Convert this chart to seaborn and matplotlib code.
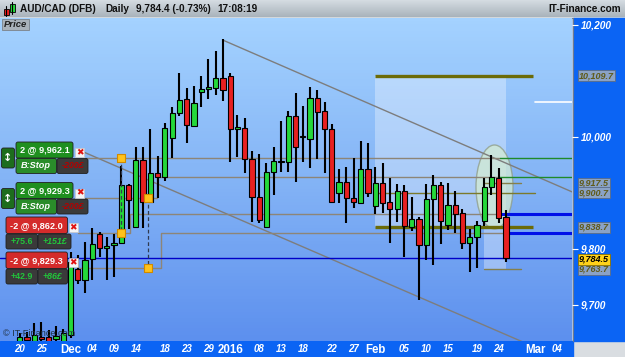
import numpy as np
import pandas as pd
import matplotlib
matplotlib.use("Agg")
import matplotlib.pyplot as plt
import matplotlib.transforms as mtransforms
from matplotlib.patches import Rectangle, Ellipse, FancyBboxPatch
from matplotlib.colors import LinearSegmentedColormap
import seaborn as sns

sns.set_theme(style="white")
plt.rcParams['font.family'] = ['Liberation Sans', 'DejaVu Sans']

# ---------------- data ----------------
day_idx = list(range(-10, 58))   # trading-day index, 0 = 4 Dec 2015
opens = [9634, 9643, 9635, 9643, 9643, 9640, 9634, 9646, 9764, 9745,
         9782, 9827, 9802, 9807, 9811, 9914, 9839, 9959, 9884, 9936,
         9929, 9998, 10043, 10068, 10020, 10080, 10086, 10088, 10105, 10109,
         10014, 10016, 9961, 9893, 9839, 9937, 9955, 9955, 10038, 10000,
         9996, 10070, 10046, 10014, 9900, 9920, 9891, 9882, 9943, 9877,
         9918, 9884, 9871, 9904, 9839, 9854, 9807, 9889, 9914, 9843,
         9879, 9864, 9811, 9821, 9850, 9911, 9927, 9857]
highs = [9650, 9652, 9668, 9670, 9655, 9662, 9657, 9794, 9789, 9812,
         9837, 9830, 9821, 9827, 9948, 9916, 9982, 9982, 10014, 9966,
         10025, 10054, 10114, 10088, 10091, 10109, 10139, 10154, 10175, 10114,
         10039, 10034, 9975, 9970, 9954, 9982, 10029, 10046, 10079, 10055,
         10089, 10084, 10063, 10023, 9943, 9946, 9963, 9993, 9989, 9946,
         9954, 9927, 9916, 9914, 9893, 9857, 9916, 9932, 9920, 9918,
         9904, 9871, 9836, 9850, 9927, 9968, 9945, 9870]
lows = [9628, 9630, 9630, 9632, 9628, 9635, 9628, 9641, 9737, 9721,
        9745, 9786, 9745, 9750, 9809, 9835, 9837, 9837, 9882, 9891,
        9921, 9963, 10038, 9989, 10018, 10054, 10068, 10075, 10064, 9955,
        9964, 9936, 9848, 9846, 9837, 9896, 9937, 9937, 9920, 9955,
        9945, 9961, 9936, 9882, 9882, 9846, 9873, 9880, 9893, 9862,
        9864, 9811, 9848, 9786, 9832, 9709, 9780, 9771, 9809, 9834,
        9829, 9800, 9759, 9766, 9841, 9896, 9846, 9777]
closes = [9643, 9637, 9646, 9640, 9635, 9645, 9650, 9776, 9745, 9780,
          9809, 9802, 9805, 9811, 9914, 9887, 9959, 9884, 9936, 9929,
          10016, 10043, 10066, 10021, 10061, 10086, 10089, 10105, 10084, 10014,
          10018, 9961, 9893, 9852, 9937, 9957, 9957, 10038, 9982, 10002,
          10070, 10045, 10014, 9884, 9920, 9891, 9884, 9943, 9900, 9918,
          9882, 9871, 9904, 9841, 9854, 9807, 9889, 9914, 9850, 9879,
          9862, 9811, 9821, 9843, 9911, 9929, 9855, 9784.5]

date_tick_idx = [-10, -7, -3, 0, 3, 6, 10, 13, 16, 19, 23, 26, 29, 33, 36, 39,
                 43, 46, 49, 53, 56, 61, 64]
date_tick_lbl = ["20", "25", "Dec", "04", "09", "14", "18", "23", "29", "2016",
                 "08", "13", "18", "22", "27", "Feb", "05", "10", "15", "19",
                 "24", "Mar", "04"]
month_lbls = ["Dec", "2016", "Feb", "Mar"]

price_ticks = [9700, 9800, 10000, 10200]
price_tick_lbl = ["9,700", "9,800", "10,000", "10,200"]

last_price = 9784.5
order_levels = [9962.1, 9929.3, 9862.0, 9829.3]
order_qty = ["2 @ 9,962.1", "2 @ 9,929.3", "-2 @ 9,862.0", "-2 @ 9,829.3"]
order_info_a = ["B:Stop", "B:Stop", "+75.6", "+42.9"]
order_info_b = ["-200£", "-200£", "+151£", "+86£"]

range1_levels = [10109.7, 9900.7, 9838.7]
range2_levels = [9917.5, 9763.7]
axis_marker_levels = [10109.7, 9917.5, 9900.7, 9838.7, 9763.7]
axis_marker_lbl = ["10,109.7", "9,917.5", "9,900.7", "9,838.7", "9,763.7"]
white_level = 10062.5

upper_trend_x, upper_trend_y = [18, 66.1], [10173, 9902]
lower_trend_x, lower_trend_y = [-1.7, 66.1], [9976, 9596]

# ---------------- layout helpers (pixel <-> data) ----------------
W, H = 625, 357
PX0, PXS = 92.3, 7.258      # x pixel of index 0, pixels per trading day
PY0, PYS = 137.0, 0.56      # y pixel of 10,000, pixels per point
def xd(px): return (px - PX0) / PXS
def yd(py): return 10000 - (py - PY0) / PYS

fig = plt.figure(figsize=(W / 100, H / 100), dpi=100)

# frame (pixel coordinates)
frame = fig.add_axes([0, 0, 1, 1], zorder=0)
frame.axis('off')
frame.add_patch(Rectangle((0, 0), W, H, color='#d9dde1', zorder=0))
tgrad = np.linspace(0, 1, 50).reshape(-1, 1)
frame.imshow(tgrad, extent=(0, W, 17, 0), aspect='auto', zorder=1,
             cmap=LinearSegmentedColormap.from_list('t', ['#d5dce2', '#a9b3bb']))
frame.plot([0, W], [17.5, 17.5], color='#7a838a', lw=0.8, zorder=2)
frame.add_patch(Rectangle((573, 18), 52, 323, color='#0b64f4', zorder=2))
frame.add_patch(Rectangle((0, 341), 573, 16, color='#0b64f4', zorder=2))
frame.plot([572.5, 572.5], [18, 341], color='#6c7a90', lw=0.8, zorder=3)
frame.set_xlim(0, W); frame.set_ylim(H, 0)

# main axes
ax = fig.add_axes([0, (H - 341) / H, 572 / W, (341 - 18) / H], zorder=2)
ax.patch.set_alpha(0)
bgrad = np.linspace(0, 1, 100).reshape(-1, 1)
ax.imshow(bgrad, extent=[0, 1, 0, 1], transform=ax.transAxes, aspect='auto', zorder=0,
          cmap=LinearSegmentedColormap.from_list('b', ['#a4d2ff', '#84b4f6', '#5d90ee']))

df = pd.DataFrame(dict(i=day_idx, o=opens, h=highs, l=lows, c=closes))
up = df.c >= df.o

# drawing tools: rectangles, ellipse
ax.add_patch(Rectangle((xd(375), range1_levels[2]), xd(506) - xd(375),
                       range1_levels[0] - range1_levels[2], color='white', alpha=0.32, lw=0, zorder=1))
ax.add_patch(Rectangle((xd(484), range2_levels[1]), xd(506) - xd(484),
                       range1_levels[2] - range2_levels[1], color='white', alpha=0.32, lw=0, zorder=1))
ax.add_patch(Ellipse((xd(494.5), yd(187)), 37 / PXS, 84 / PYS, facecolor='#d4ecd2', alpha=0.75,
                     edgecolor='#8e9c86', lw=1.0, zorder=2))

# trend channel
sns.lineplot(x=upper_trend_x, y=upper_trend_y, ax=ax, color='#7d7d7d', lw=1.0, zorder=3)
sns.lineplot(x=lower_trend_x, y=lower_trend_y, ax=ax, color='#7d7d7d', lw=1.0, zorder=3)

# range tool lines
ax.plot([xd(375), xd(533)], [range1_levels[0]] * 2, color='#6b6b08', lw=2.4, zorder=4, solid_capstyle='butt')
ax.plot([xd(375), xd(533)], [range1_levels[2]] * 2, color='#6b6b08', lw=2.4, zorder=4, solid_capstyle='butt')
ax.plot([xd(375), xd(535)], [range1_levels[1]] * 2, color='#7c7a2c', lw=1.0, zorder=4)
for lv in range2_levels:
    ax.plot([xd(484), xd(521)], [lv, lv], color='#86804a', lw=1.0, zorder=4)
ax.plot([xd(535), xd(572)], [white_level] * 2, color='white', lw=1.2, zorder=4)

# order lines
oc = '#8d8577'
bx_y = [158.3, 198.3, 233.3, 268.0]
bend_x = [None, 157, 130, 161]
end_x = [500, 500, 498, 505]
for k, lv in enumerate(order_levels):
    if bend_x[k] is None:
        ax.plot([xd(85), xd(end_x[k])], [lv, lv], color=oc, lw=1.0, zorder=4)
    else:
        x0 = 85 if k < 2 else 78
        ax.plot([xd(x0), xd(bend_x[k]), xd(bend_x[k]), xd(end_x[k])],
                [yd(bx_y[k]), yd(bx_y[k]), lv, lv], color=oc, lw=1.0, zorder=4)
    if k < 2:
        ax.plot([xd(end_x[k]), xd(572)], [lv, lv], color='#1f8a2a', lw=1.0, zorder=4)
    else:
        ax.plot([xd(end_x[k]), xd(572)], [lv, lv], color='#0010e8', lw=2.2, zorder=4)
ax.plot([xd(0), xd(572)], [last_price] * 2, color='#0000c8', lw=1.0, zorder=4)
# dashed connectors
ax.plot([xd(120.7)] * 2, [yd(158.3), yd(233.3)], color='#303a50', lw=0.9, ls=(0, (3, 2)), zorder=7)
ax.plot([xd(147.7)] * 2, [yd(198.3), yd(268)], color='#303a50', lw=0.9, ls=(0, (3, 2)), zorder=7)

# candles
ax.vlines(df.i, df.l, df.h, color='black', lw=1.5, zorder=5)
body_lo = np.minimum(df.o, df.c)
body_h = np.maximum(np.abs(df.c - df.o), 2.0)
ax.bar(df.i, body_h, bottom=body_lo, width=0.72,
       color=np.where(up, '#25d83a', '#e82020'), edgecolor='black', lw=0.8, zorder=6)

# orange markers
mk = pd.DataFrame(dict(x=[xd(120.7), xd(147.7), xd(120.7), xd(147.7)],
                       y=[yd(158.3), yd(198.3), yd(233.3), yd(268)]))
sns.scatterplot(data=mk, x='x', y='y', ax=ax, marker='s', s=28, color='#ffc21a',
                edgecolor='#d08a00', linewidth=0.8, zorder=8)

ax.set_xlim(xd(0), xd(572))
ax.set_ylim(yd(341), yd(18))
for s in ax.spines.values():
    s.set_visible(False)
ax.set_xlabel(''); ax.set_ylabel('')

# x tick labels
ax.set_xticks(date_tick_idx)
ax.set_xticklabels(date_tick_lbl)
ax.tick_params(axis='x', bottom=True, length=0, pad=2.5, labelcolor='white')
for t in ax.get_xticklabels():
    if t.get_text() in month_lbls:
        t.set_fontsize(8.3); t.set_fontweight('bold')
    else:
        t.set_fontsize(7.0); t.set_fontweight('bold'); t.set_fontstyle('italic')

# y tick labels
ax.yaxis.tick_right()
ax.set_yticks(price_ticks)
ax.set_yticklabels(price_tick_lbl)
ax.tick_params(axis='y', right=True, left=False, labelright=True, labelleft=False,
               length=4, width=0.8, color='white', pad=2.5, labelcolor='white')
for t in ax.get_yticklabels():
    t.set_fontsize(7.3); t.set_fontweight('bold'); t.set_fontstyle('italic')

blend = mtransforms.blended_transform_factory(ax.transAxes, ax.transData)
for lv, lb in zip(axis_marker_levels, axis_marker_lbl):
    ax.text(1 + 7 / 572, lv, lb, transform=blend, ha='left', va='center', fontsize=6.5,
            style='italic', weight='bold', color='#5f5a18', clip_on=False, zorder=10,
            bbox=dict(boxstyle='square,pad=0.08', fc='#8aa2c6', ec='#5a6c86', lw=0.6))
shift_down = mtransforms.ScaledTranslation(0, -1.6 / 100, fig.dpi_scale_trans)
ax.text(1 + 7 / 572, last_price, "9,784.5", transform=blend + shift_down, ha='left', va='center',
        fontsize=6.5, style='italic', weight='bold', color='black', clip_on=False, zorder=11,
        bbox=dict(boxstyle='square,pad=0.08', fc='#ffd21a', ec='#8a7000', lw=0.6))

# overlay (pixel coordinates): title bar, order tickets
ov = fig.add_axes([0, 0, 1, 1], zorder=5)
ov.axis('off')
ov.set_xlim(0, W); ov.set_ylim(H, 0)

def rbox(x0, y0, x1, y1, fc, ec='#202020', r=2):
    ov.add_patch(FancyBboxPatch((x0, y0), x1 - x0, y1 - y0,
                                boxstyle='round,pad=0,rounding_size=%g' % r,
                                fc=fc, ec=ec, lw=0.6))

# title icon
ov.plot([6, 6], [6, 16], color='black', lw=0.8)
ov.add_patch(Rectangle((3.5, 8.5), 5, 6, fc='#e82020', ec='black', lw=0.6))
ov.plot([12, 12], [2, 14], color='black', lw=0.8)
ov.add_patch(Rectangle((9.5, 4), 5, 8, fc='#25d83a', ec='black', lw=0.6))
ov.text(20.5, 9, "AUD/CAD (DFB)", fontsize=7.2, weight='bold', va='center', ha='left', color='#101010')
ov.text(105, 9, "Daily", fontsize=7.2, weight='bold', va='center', ha='left', color='#101010')
ov.text(136, 9, "9,784.4 (-0.73%)", fontsize=7.2, weight='bold', va='center', ha='left', color='#101010')
ov.text(217, 9, "17:08:19", fontsize=7.2, weight='bold', va='center', ha='left', color='#101010')
ov.text(621, 9, "IT-Finance.com", fontsize=7.2, weight='bold', va='center', ha='right', color='#101010')
ov.add_patch(Rectangle((1.5, 18.5), 27, 11, fc='#a9b2ba', ec='#7a838a', lw=0.6))
ov.text(3.5, 24.2, "Price", fontsize=6.8, weight='bold', style='italic', va='center', ha='left',
        color='#202020')
ov.text(3, 333.5, "© IT-Finance.com", fontsize=6.6, va='center', ha='left', color='#203040')

# order tickets
ticket_top = [142, 182.5, 217, 252]
for k in range(4):
    t = ticket_top[k]
    if k < 2:
        rbox(1.5, t + 6, 14.5, t + 26, '#1d6d1d')
        ov.text(8, t + 16, "↕", fontsize=8, weight='bold', color='white', ha='center', va='center',
                family=['DejaVu Sans'])
        rbox(16, t, 73, t + 16, '#1f8f1f')
        ov.text(44.5, t + 8, order_qty[k], fontsize=6.6, weight='bold', color='white', ha='center', va='center')
        rbox(16, t + 16.5, 56.5, t + 31.5, '#2a8c2a')
        ov.text(36, t + 24, order_info_a[k], fontsize=6.6, weight='bold', style='italic', color='white',
                ha='center', va='center')
        rbox(57, t + 16.5, 88, t + 31.5, '#3b3b3b')
        ov.text(72.5, t + 24, order_info_b[k], fontsize=6.4, weight='bold', style='italic',
                color='#b50000', ha='center', va='center')
        xi, yi = 75, t + 6
    else:
        rbox(6, t, 67.5, t + 16.5, '#d42b2b')
        ov.text(36.5, t + 8.3, order_qty[k], fontsize=6.6, weight='bold', color='white', ha='center', va='center')
        rbox(6, t + 17, 37.5, t + 32, '#3a3a3a')
        ov.text(21.8, t + 24.5, order_info_a[k], fontsize=6.4, weight='bold', color='#22c43a',
                ha='center', va='center')
        rbox(38, t + 17, 71 if k == 2 else 67.5, t + 32, '#3a3a3a')
        ov.text(54.5 if k == 2 else 52.7, t + 24.5, order_info_b[k], fontsize=6.4, weight='bold',
                style='italic', color='#22c43a', ha='center', va='center')
        xi, yi = 68.5, t + 6
    ov.add_patch(Rectangle((xi, yi), 9, 9, fc='#f4f4f4', ec='#c8c8c8', lw=0.5))
    ov.text(xi + 4.5, yi + 4.7, "✖", fontsize=6.5, color='#e01010', ha='center', va='center',
            family=['DejaVu Sans'])

fig.savefig("out.png", dpi=100)
